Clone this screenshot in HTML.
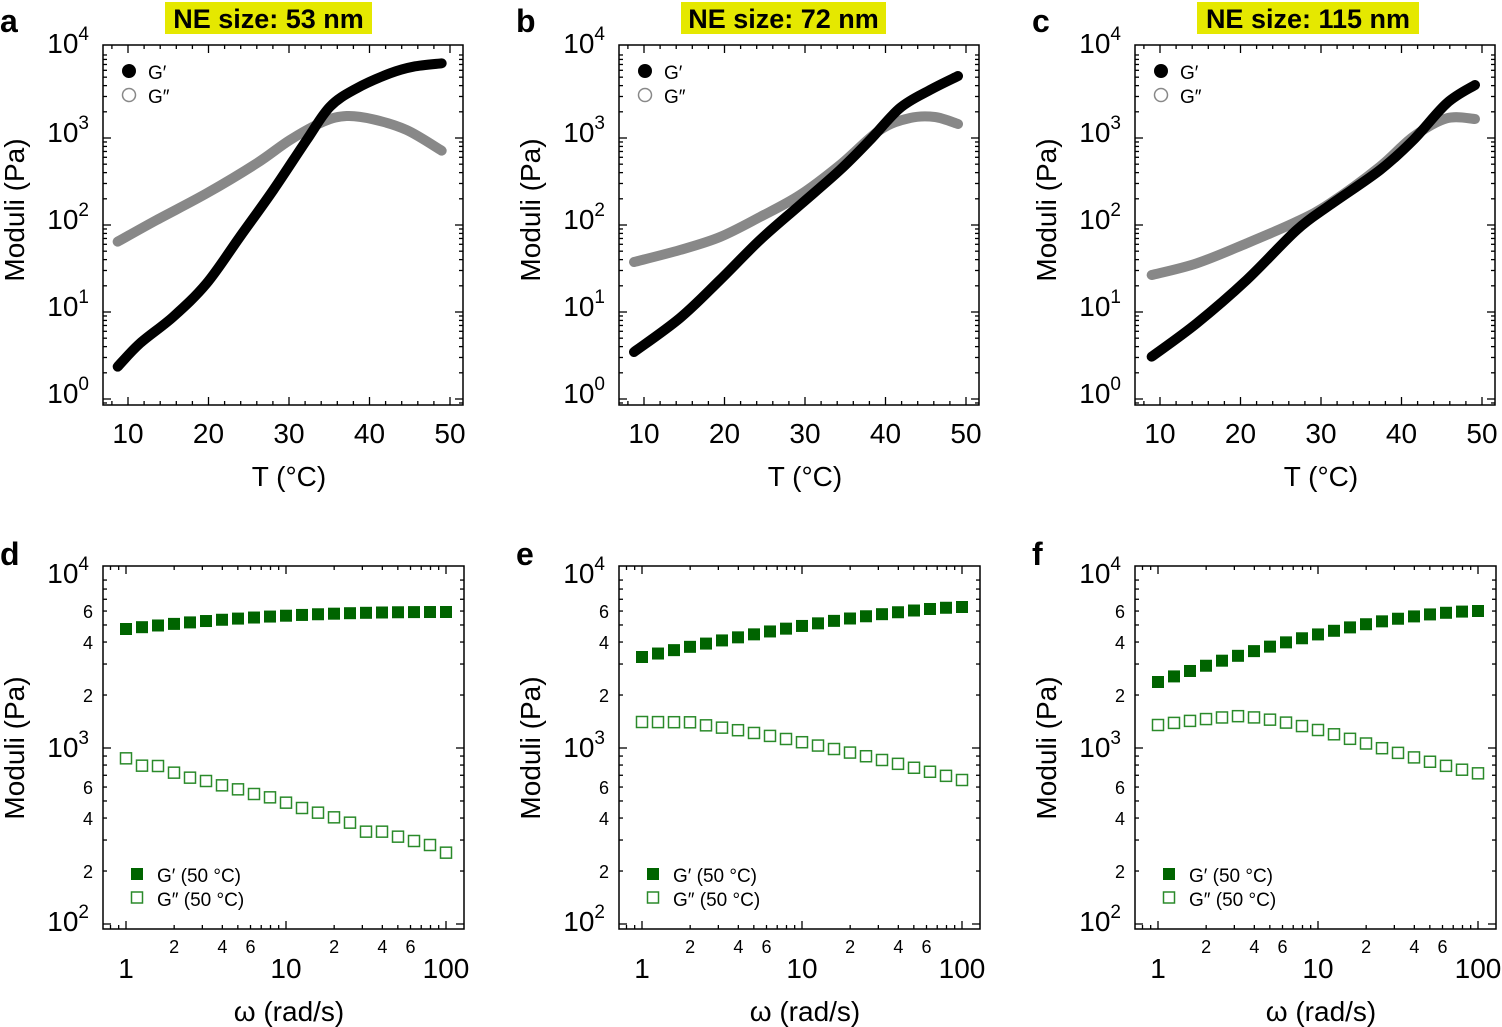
<!DOCTYPE html>
<html><head><meta charset="utf-8"><style>
body{margin:0;background:#fff}
svg{display:block;font-family:"Liberation Sans",sans-serif}
</style></head><body>
<svg id="s" width="1502" height="1027" xmlns="http://www.w3.org/2000/svg"></svg>
<script>
const s=document.getElementById('s');let h='';
const L=[2,3,4,5,6,7,8,9].map(Math.log10);
const letters=['a','b','c','d','e','f'],titles=['NE size: 53 nm','NE size: 72 nm','NE size: 115 nm'];
const tw=[207,205,222];
for(let p=0;p<3;p++){
 const o=p*516;
 const x0=103+o,x1=463+o,y0=45,y1=405;
 h+=`<text x="${o}" y="32" font-size="32" font-weight="bold">${letters[p]}</text>`;
 h+=`<rect x="${165+o}" y="2" width="${tw[p]}" height="32" fill="#e5e800"/>`;
 h+=`<text x="${165+o+tw[p]/2}" y="28" font-size="27" font-weight="bold" text-anchor="middle">${titles[p]}</text>`;
 h+=`<rect x="${x0}" y="${y0}" width="360" height="360" fill="none" stroke="#000" stroke-width="1.5"/>`;
 const tx=T=>128+o+(T-10)*8.05, ty=l=>399-l*87;
 for(let T=8;T<=52;T+=2){const x=tx(T);if(x<x0||x>x1)continue;const len=T%10==0?8:4;h+=`<line x1="${x}" y1="${y1}" x2="${x}" y2="${y1-len}" stroke="#000" stroke-width="1.3"/><line x1="${x}" y1="${y0}" x2="${x}" y2="${y0+len}" stroke="#000" stroke-width="1.3"/>`;
  if(T%10==0)h+=`<text x="${x}" y="443" font-size="28" text-anchor="middle">${T}</text>`;}
 for(let d=-1;d<4;d++){for(let k=-1;k<8;k++){const l=d+(k<0?0:L[k]);const y=ty(l);if(y<y0||y>y1)continue;const len=k<0?8:4;
  h+=`<line x1="${x0}" y1="${y}" x2="${x0+len}" y2="${y}" stroke="#000" stroke-width="1.3"/><line x1="${x1}" y1="${y}" x2="${x1-len}" y2="${y}" stroke="#000" stroke-width="1.3"/>`;}}
 [0,1,2,3].forEach(d=>{h+=`<text x="${x0-14}" y="${ty(d)+4}" font-size="28" text-anchor="end">10<tspan dy="-13" font-size="19">${d}</tspan></text>`});
 h+=`<text x="${x0-14}" y="53" font-size="28" text-anchor="end">10<tspan dy="-13" font-size="19">4</tspan></text>`;
 h+=`<text transform="translate(${24+o},210) rotate(-90)" font-size="28" text-anchor="middle">Moduli (Pa)</text>`;
 h+=`<text x="${289+o}" y="486" font-size="28" text-anchor="middle">T (°C)</text>`;
 h+=`<circle cx="${129+o}" cy="71" r="7"/><text x="${148+o}" y="79" font-size="19">G′</text>`;
 h+=`<circle cx="${129+o}" cy="95" r="6.5" fill="none" stroke="#888" stroke-width="1.5"/><text x="${148+o}" y="103" font-size="19">G″</text>`;
 const X0=103+o,X1=464+o,Y0=566,Y1=929;
 h+=`<text x="${o}" y="565" font-size="32" font-weight="bold">${letters[p+3]}</text>`;
 h+=`<rect x="${X0}" y="${Y0}" width="361" height="363" fill="none" stroke="#000" stroke-width="1.5"/>`;
 const wx=l=>126+o+l*160, wy=l=>748-(l-3)*176;
 for(let d=-1;d<3;d++)for(let k=-1;k<8;k++){const l=d+(k<0?0:L[k]);const x=wx(l);if(x<X0||x>X1)continue;const len=k<0?8:4;
  h+=`<line x1="${x}" y1="${Y1}" x2="${x}" y2="${Y1-len}" stroke="#000" stroke-width="1.3"/><line x1="${x}" y1="${Y0}" x2="${x}" y2="${Y0+len}" stroke="#000" stroke-width="1.3"/>`;
  if(k==0||k==2||k==4)h+=`<text x="${x}" y="953" font-size="18" text-anchor="middle">${[2,0,4,0,6][k]}</text>`;}
 [['1',0],['10',1],['100',2]].forEach(([t,l])=>h+=`<text x="${wx(l)}" y="978" font-size="28" text-anchor="middle">${t}</text>`);
 for(let d=1;d<4;d++)for(let k=-1;k<8;k++){const l=d+(k<0?0:L[k]);const y=wy(l);if(y<Y0-2||y>Y1)continue;const len=k<0?8:4;
  h+=`<line x1="${X0}" y1="${y}" x2="${X0+len}" y2="${y}" stroke="#000" stroke-width="1.3"/><line x1="${X1}" y1="${y}" x2="${X1-len}" y2="${y}" stroke="#000" stroke-width="1.3"/>`;
  if(k==0||k==2||k==4)h+=`<text x="${X0-10}" y="${y+7}" font-size="18" text-anchor="end">${[2,0,4,0,6][k]}</text>`;}
 h+=`<text x="${X0-14}" y="931" font-size="28" text-anchor="end">10<tspan dy="-13" font-size="19">2</tspan></text>`;
 h+=`<text x="${X0-14}" y="757" font-size="28" text-anchor="end">10<tspan dy="-13" font-size="19">3</tspan></text>`;
 h+=`<text x="${X0-14}" y="583" font-size="28" text-anchor="end">10<tspan dy="-13" font-size="19">4</tspan></text>`;
 h+=`<text transform="translate(${24+o},748) rotate(-90)" font-size="28" text-anchor="middle">Moduli (Pa)</text>`;
 h+=`<text x="${289+o}" y="1021" font-size="28" text-anchor="middle">ω (rad/s)</text>`;
 h+=`<rect x="${131+o}" y="868" width="12" height="12" fill="#006400"/><text x="${157+o}" y="882" font-size="19">G′ (50 °C)</text>`;
 h+=`<rect x="${131.5+o}" y="892" width="11" height="11" fill="none" stroke="#2a8a2a" stroke-width="1.5"/><text x="${157+o}" y="906" font-size="19">G″ (50 °C)</text>`;
}
function line(P,c){let d=`M${P[0][0]},${P[0][1]}`;
 for(let i=0;i<P.length-1;i++){const p0=P[Math.max(0,i-1)],p1=P[i],p2=P[i+1],p3=P[Math.min(P.length-1,i+2)];
  d+=` C${p1[0]+(p2[0]-p0[0])/6},${p1[1]+(p2[1]-p0[1])/6} ${p2[0]-(p3[0]-p1[0])/6},${p2[1]-(p3[1]-p1[1])/6} ${p2[0]},${p2[1]}`;}
 h+=`<path d="${d}" fill="none" stroke="${c}" stroke-width="10" stroke-linecap="round" stroke-linejoin="round"/>`;}
const z=(ox,oy,a)=>a.map(([x,y])=>[ox+x/3,oy+y/3]);
line(z(40,30,[[233,635],[350,570],[500,490],[650,400],[750,330],[850,275],[920,258],[1000,268],[1100,300],[1205,362]]),'#888');
line(z(40,30,[[233,1010],[300,940],[400,860],[500,760],[600,620],[700,480],[800,330],[870,230],[950,175],[1050,130],[1120,110],[1205,100]]),'#000');
line([[634,262],[680,250],[720,237],[760,217],[800,195],[840,165],[880,130],[910,118],[935,117],[958,124]],'#888');
line([[634,352],[680,318],[720,280],[760,240],[800,205],[840,170],[870,140],[900,108],[930,90],[958,76]],'#000');
line(z(1130,40,[[65,705],[200,670],[350,610],[500,545],[600,490],[750,380],[850,290],[950,235],[1035,237]]),'#888');
line(z(1130,40,[[65,950],[200,850],[350,720],[500,570],[600,495],[750,390],[850,300],[950,190],[1035,135]]),'#000');
const dG2=[595,617,618,638,653,663,676,688,702,712,728,744,758,772,788,815,815,830,843,855,878].map(y=>560+y/3);
function lin(a,b,i){return a+(b-a)*i/20}
function curve(a,b,c,i){return a+(b-a)*(1-Math.pow(1-i/20,c))}
for(let p=0;p<3;p++){const o=p*516;
 for(let i=0;i<21;i++){const x=126+o+i*16;let g1,g2;
  if(p==0){g1=curve(629,612,2.2,i);g2=dG2[i];}
  else if(p==1){g1=curve(657,607,1.4,i);g2=i<4?lin(722,724,i):722+(780-722)*Math.pow((i-2)/18,1.3);}
  else{g1=curve(682,611,1.6,i);g2=721-5*Math.sin(Math.PI*i/12)+(i>5?48*Math.pow((i-5)/15,1.3):0)+(i<=5?4*(1-i/5):0);}
  h+=`<rect x="${x-6}" y="${g1-6}" width="12" height="12" fill="#006400"/>`;
  h+=`<rect x="${x-5.5}" y="${g2-5.5}" width="11" height="11" fill="none" stroke="#2a8a2a" stroke-width="1.5"/>`;}}
s.innerHTML=h;
</script>
</body></html>
